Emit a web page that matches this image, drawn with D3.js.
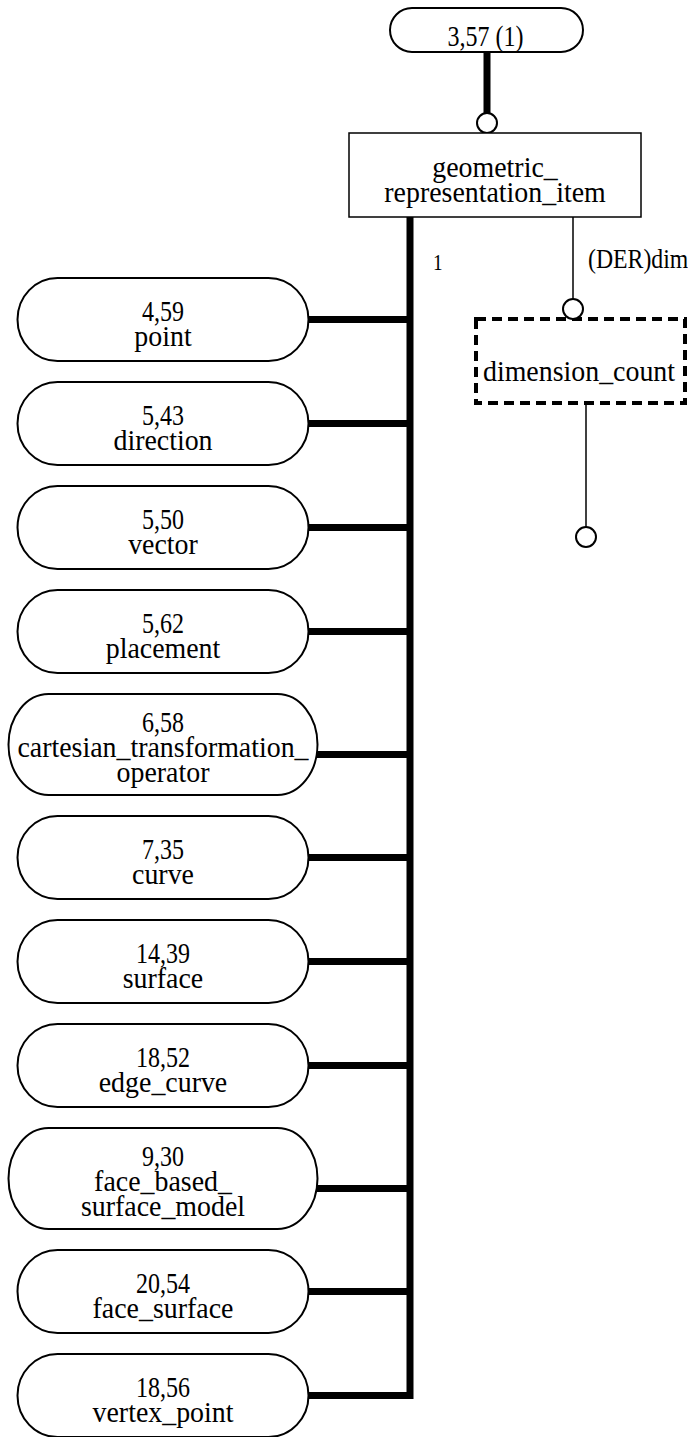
<!DOCTYPE html>
<html>
<head>
<meta charset="utf-8">
<script src="https://cdn.jsdelivr.net/npm/d3@7"></script>
<style>
  html, body { margin: 0; padding: 0; background: #fff; }
  svg { display: block; }
</style>
</head>
<body>
<div id="chart"></div>
<script>
// ---- data ----
const sourceLabel = "3,57 (1)";
const mainEntity = ["geometric_", "representation_item"];
const subtypeRefs = ["4,59", "5,43", "5,50", "5,62", "6,58", "7,35", "14,39", "18,52", "9,30", "20,54", "18,56"];
const subtypeNames = [
  ["point"], ["direction"], ["vector"], ["placement"],
  ["cartesian_transformation_", "operator"], ["curve"], ["surface"], ["edge_curve"],
  ["face_based_", "surface_model"], ["face_surface"], ["vertex_point"]
];
const cardinalityLabel = "1";
const attributeLabel = "(DER)dim";
const attributeType = "dimension_count";

// ---- layout ----
const W = 688, H = 1437;
const FONT = "'Liberation Serif', 'Times New Roman', serif";
const svg = d3.select("#chart").append("svg")
  .attr("width", W).attr("height", H)
  .attr("font-family", FONT);

const bigFont = 30, lineH = 25;
const wordScale = 0.93, numScale = 0.8;
const trunkX = 410, thick = 7;

// text helper: horizontally condensed serif like the reference
function addText(parent, x, y, str, size, sx, anchor) {
  return parent.append("text")
    .attr("transform", `translate(${x},${y}) scale(${sx},1)`)
    .attr("x", 0).attr("y", 0)
    .attr("font-family", FONT).attr("font-size", size).attr("fill", "#000")
    .attr("text-anchor", anchor || "middle")
    .text(str);
}
const isNum = s => /^[\d,() ]+$/.test(s);

// subtype stacking
const nodes = subtypeRefs.map((ref, i) => ({ ref, lines: [ref].concat(subtypeNames[i]) }));
const h2 = 83, h3 = 101, gap = 21, startY = 278;
let yCur = startY;
nodes.forEach(n => {
  n.h = n.lines.length === 2 ? h2 : h3;
  n.y = yCur;
  n.cy = yCur + n.h / 2;
  n.w = n.lines.length === 2 ? 291 : 309;
  n.cx = 163;
  n.x = n.cx - n.w / 2;
  n.conn = n.cy + (n.lines.length === 3 ? 10 : 0);
  yCur += n.h + gap;
});

const yScale = d3.scaleIdentity();

const src = { x: 390, y: 8, w: 193, h: 44 };
const box = { x: 349, y: 133, w: 292, h: 84 };
const dbox = { x: 476, y: 319, w: 209, h: 84 };
const circR = 10;

// ---- trunk & connectors ----
const last = nodes[nodes.length - 1];
svg.append("path")
  .attr("d", `M${trunkX},${box.y + box.h} V${yScale(last.conn)} H${last.x + last.w}`)
  .attr("fill", "none").attr("stroke", "#000").attr("stroke-width", thick)
  .attr("stroke-linejoin", "miter");

svg.selectAll("line.conn").data(nodes.slice(0, -1)).join("line")
  .attr("class", "conn")
  .attr("x1", d => d.x + d.w - 1).attr("x2", trunkX)
  .attr("y1", d => yScale(d.conn)).attr("y2", d => yScale(d.conn))
  .attr("stroke", "#000").attr("stroke-width", thick);

// subtype pills
const g = svg.selectAll("g.node").data(nodes).join("g").attr("class", "node");
g.append("rect")
  .attr("x", d => d.x).attr("y", d => yScale(d.y))
  .attr("width", d => d.w).attr("height", d => d.h)
  .attr("rx", 40).attr("ry", d => d.h / 2)
  .attr("fill", "#fff").attr("stroke", "#000").attr("stroke-width", 2);
g.each(function(d) {
  const n = d.lines.length;
  const base = n === 2 ? 1.5 : -13;
  d.lines.forEach((ln, i) => {
    addText(d3.select(this), d.cx, yScale(d.cy + base + i * lineH), ln, bigFont,
      isNum(ln) ? numScale : wordScale);
  });
});

// ---- top source pill & link ----
svg.append("line")
  .attr("x1", 487).attr("x2", 487).attr("y1", src.y + src.h).attr("y2", box.y - 2 * circR)
  .attr("stroke", "#000").attr("stroke-width", thick);
svg.append("rect")
  .attr("x", src.x).attr("y", src.y).attr("width", src.w).attr("height", src.h)
  .attr("rx", 22).attr("ry", 22)
  .attr("fill", "#fff").attr("stroke", "#000").attr("stroke-width", 2);
addText(svg, src.x + src.w / 2 - 1, 46, sourceLabel, bigFont, numScale);
svg.append("circle").attr("cx", 487).attr("cy", box.y - circR).attr("r", circR)
  .attr("fill", "#fff").attr("stroke", "#000").attr("stroke-width", 2);

// ---- main entity box ----
svg.append("rect")
  .attr("x", box.x).attr("y", box.y).attr("width", box.w).attr("height", box.h)
  .attr("fill", "#fff").attr("stroke", "#000").attr("stroke-width", 1.5);
mainEntity.forEach((ln, i) => {
  addText(svg, box.x + box.w / 2, 177 + i * lineH, ln, bigFont, wordScale);
});

addText(svg, 433, 270, cardinalityLabel, 24, numScale, "start");

// ---- attribute link ----
svg.append("line")
  .attr("x1", 573).attr("x2", 573).attr("y1", box.y + box.h).attr("y2", dbox.y - 2 * circR)
  .attr("stroke", "#000").attr("stroke-width", 1.5);
addText(svg, 588, 268, attributeLabel, 27, 0.88, "start");

svg.append("rect")
  .attr("x", dbox.x).attr("y", dbox.y).attr("width", dbox.w).attr("height", dbox.h)
  .attr("fill", "#fff").attr("stroke", "#000").attr("stroke-width", 4)
  .attr("stroke-dasharray", "10,6");
svg.append("circle").attr("cx", 573).attr("cy", dbox.y - circR).attr("r", circR)
  .attr("fill", "#fff").attr("stroke", "#000").attr("stroke-width", 2);
addText(svg, 579, 381, attributeType, bigFont, wordScale);

svg.append("line")
  .attr("x1", 586).attr("x2", 586).attr("y1", dbox.y + dbox.h).attr("y2", 527)
  .attr("stroke", "#000").attr("stroke-width", 1.5);
svg.append("circle").attr("cx", 586).attr("cy", 537).attr("r", circR)
  .attr("fill", "#fff").attr("stroke", "#000").attr("stroke-width", 2);
</script>
</body>
</html>
